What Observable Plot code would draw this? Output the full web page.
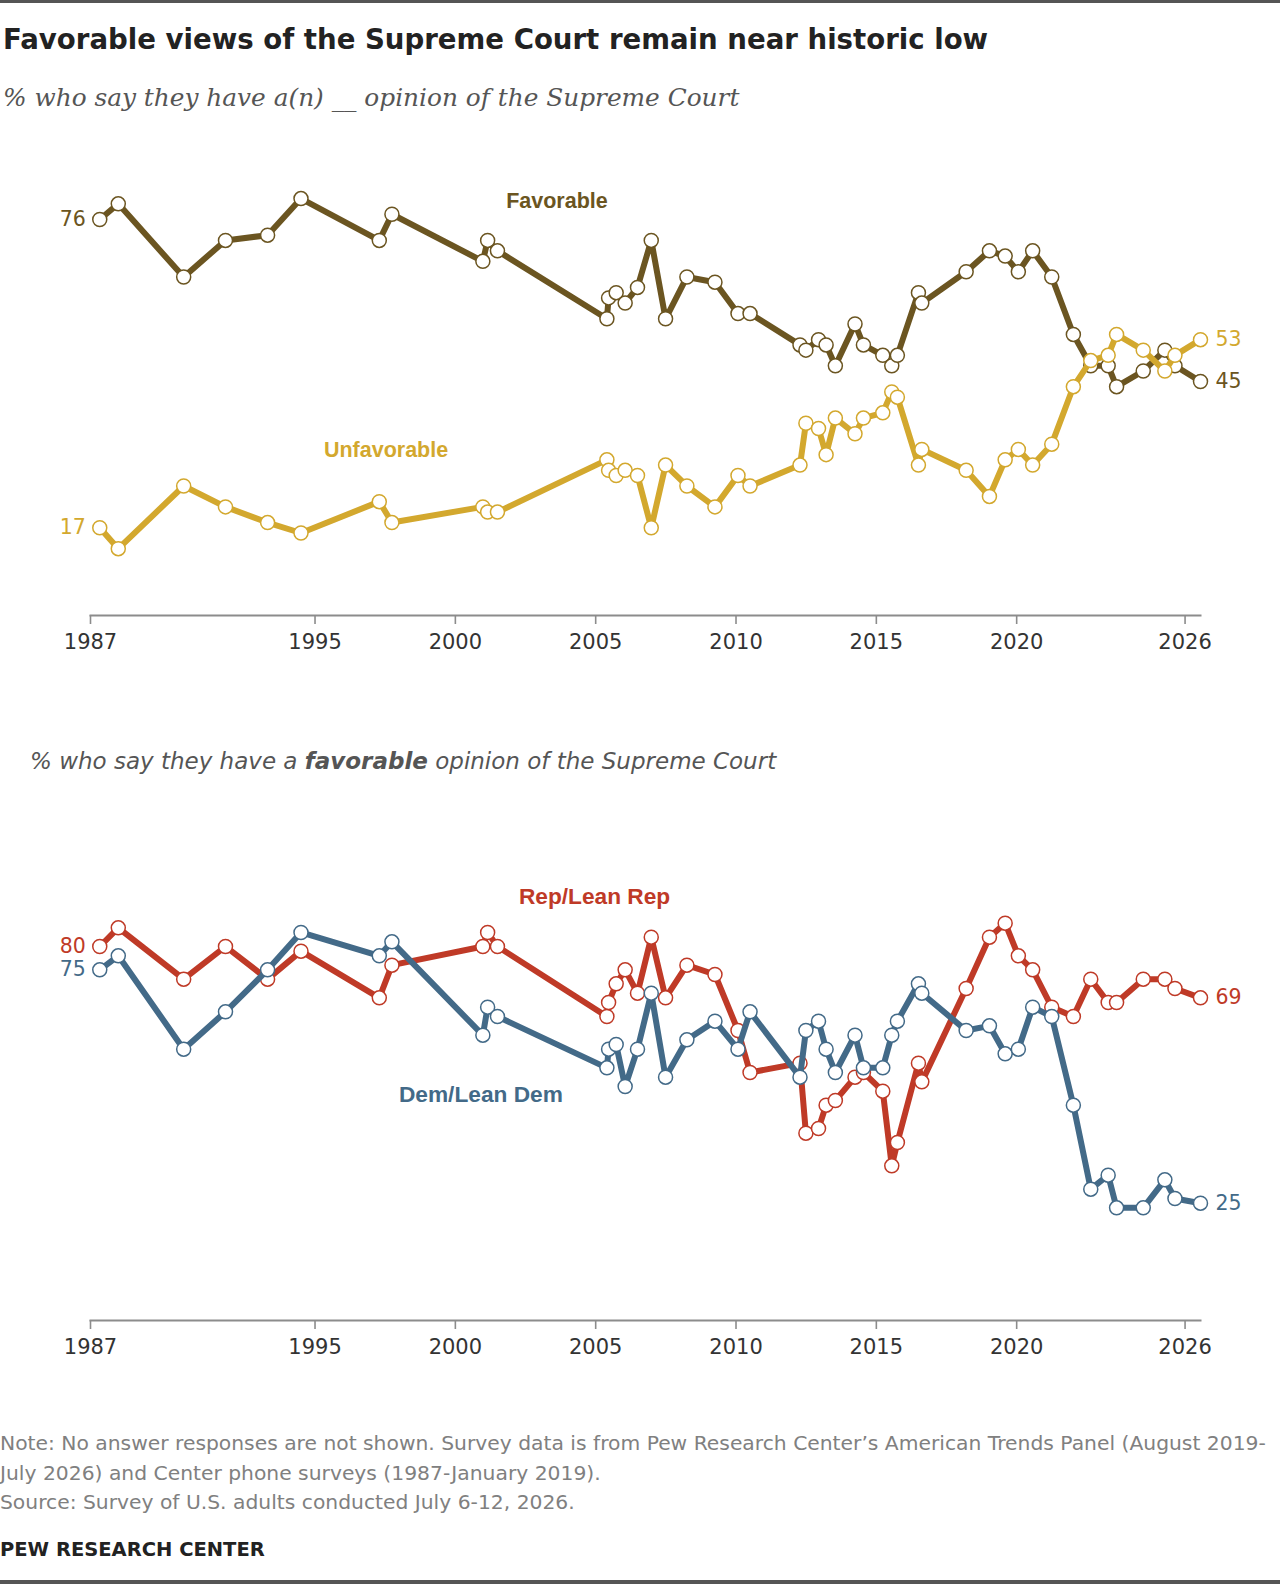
<!DOCTYPE html>
<html>
<head>
<meta charset="utf-8">
<script src="https://cdn.jsdelivr.net/npm/d3@7"></script>
<script src="https://cdn.jsdelivr.net/npm/@observablehq/plot@0.6"></script>
<style>
  html, body { margin: 0; padding: 0; background: #fff; }
  body { width: 1280px; height: 1584px; position: relative; overflow: hidden; font-family: 'DejaVu Sans', 'Liberation Sans', Arial, sans-serif; }
  .abs { position: absolute; white-space: nowrap; }
  .rule { position: absolute; left: 0; width: 1280px; background: #555; }
</style>
</head>
<body>
<div class="rule" style="top:0;height:3px"></div>
<div class="abs" style="left:3px;top:23px;font-size:27.6px;line-height:34px;font-weight:bold;color:#222">Favorable views of the Supreme Court remain near historic low</div>
<div class="abs" style="left:3px;top:83px;font-size:24.8px;line-height:30px;font-family:'DejaVu Serif',Georgia,serif;font-style:italic;color:#555">% who say they have a(n) __ opinion of the Supreme Court</div>
<div id="p1" class="abs" style="left:0;top:130px"></div>
<div class="abs" style="left:30px;top:747px;font-size:23px;line-height:28px;font-style:italic;color:#555">% who say they have a <b>favorable</b> opinion of the Supreme Court</div>
<div id="p2" class="abs" style="left:0;top:800px"></div>
<div class="abs" style="left:0;top:1429px;font-size:20.3px;line-height:29.6px;color:#808080">Note: No answer responses are not shown. Survey data is from Pew Research Center’s American Trends Panel (August 2019-<br>July 2026) and Center phone surveys (1987-January 2019).<br>Source: Survey of U.S. adults conducted July 6-12, 2026.</div>
<div class="abs" style="left:0;top:1538px;font-size:19.5px;line-height:24px;font-weight:bold;color:#222">PEW RESEARCH CENTER</div>
<div class="rule" style="top:1580px;height:4px"></div>
<script>
// ---- Data (survey dates as fractional years) ----
const dates = [1987.33, 1987.99, 1990.32, 1991.81, 1993.31, 1994.50, 1997.29, 1997.74, 2000.98, 2001.15, 2001.50,
  2005.40, 2005.46, 2005.73, 2006.05, 2006.49, 2006.98, 2007.49, 2008.25, 2009.25, 2010.07, 2010.50,
  2012.28, 2012.49, 2012.94, 2013.21, 2013.54, 2014.24, 2014.54, 2015.23, 2015.55, 2015.75, 2016.50, 2016.62,
  2018.20, 2019.03, 2019.59, 2020.06, 2020.57, 2021.25, 2022.02, 2022.64, 2023.26, 2023.56, 2024.51, 2025.28, 2025.64, 2026.55];
const favorable = [76, 79, 65, 72, 73, 80, 72, 77, 68, 72, 70,
  57, 61, 62, 60, 63, 72, 57, 65, 64, 58, 58,
  52, 51, 53, 52, 48, 56, 52, 50, 48, 50, 62, 60,
  66, 70, 69, 66, 70, 65, 54, 48, 48, 44, 47, 51, 48, 45];
const unfavorable = [17, 13, 25, 21, 18, 16, 22, 18, 21, 20, 20,
  30, 28, 27, 28, 27, 17, 29, 25, 21, 27, 25,
  29, 37, 36, 31, 38, 35, 38, 39, 43, 42, 29, 32,
  28, 23, 30, 32, 29, 33, 44, 49, 50, 54, 51, 47, 50, 53];
const repLean = [80, 84, 73, 80, 73, 79, 69, 76, 80, 83, 80,
  65, 68, 72, 75, 70, 82, 69, 76, 74, 62, 53,
  55, 40, 41, 46, 47, 52, 53, 49, 33, 38, 55, 51,
  71, 82, 85, 78, 75, 67, 65, 73, 68, 68, 73, 73, 71, 69];
const demLean = [75, 78, 58, 66, 75, 83, 78, 81, 61, 67, 65,
  54, 58, 59, 50, 58, 70, 52, 60, 64, 58, 66,
  52, 62, 64, 58, 53, 61, 54, 54, 61, 64, 72, 70,
  62, 63, 57, 58, 67, 65, 46, 28, 31, 24, 24, 30, 26, 25];
const tickYears = [1987, 1995, 2000, 2005, 2010, 2015, 2020, 2026];
const seriesNames1 = ["Favorable", "Unfavorable"];
const seriesNames2 = ["Rep/Lean Rep", "Dem/Lean Dem"];
// label anchor positions (data space)
const labelYears1 = [2003.62, 1997.53];
const labelValues1 = [79.5, 31.8];
const labelYears2 = [2004.96, 2000.91];
const labelValues2 = [90.6, 48.3];

const colors1 = ["#6b5521", "#d3a82e"];
const colors2 = ["#bf3a27", "#436a88"];
const font = "'DejaVu Sans', 'Liberation Sans', Arial, sans-serif";
const labelFont = "'Liberation Sans', Arial, sans-serif";

function rowsOf(values) { return dates.map((d, i) => ({date: d, value: values[i]})); }

function panel({series, names, colors, labelYears, labelValues, labelSize, H, T, axisY, yPage}) {
  const marks = [];
  series.forEach((vals, k) => {
    const rows = rowsOf(vals);
    marks.push(Plot.line(rows, {x: "date", y: "value", stroke: colors[k], strokeWidth: 6, strokeLinejoin: "round", strokeLinecap: "round"}));
    marks.push(Plot.dot(rows, {x: "date", y: "value", r: 7, fill: "white", stroke: colors[k], strokeWidth: 1.5}));
    marks.push(Plot.text([rows[0]], {x: "date", y: "value", text: d => String(d.value), textAnchor: "end", dx: -14, fill: colors[k], fontSize: 20.5}));
    marks.push(Plot.text([rows[rows.length - 1]], {x: "date", y: "value", text: d => String(d.value), textAnchor: "start", dx: 15, fill: colors[k], fontSize: 20.5}));
    marks.push(Plot.text([{x: labelYears[k], y: labelValues[k], name: names[k]}], {x: "x", y: "y", text: "name", fill: colors[k], fontWeight: "bold", fontSize: labelSize, fontFamily: labelFont}));
  });
  marks.unshift(
    Plot.frame({anchor: "bottom", stroke: "#8c8c8c", strokeWidth: 2}),
    Plot.axisX({ticks: tickYears, tickFormat: d => String(d), tickSize: 9, tickPadding: 10, stroke: "#8c8c8c", strokeWidth: 1.6, fill: "#333", fontSize: 21})
  );
  return Plot.plot({
    width: 1280, height: H,
    marginLeft: 90, marginRight: 80, marginTop: 0, marginBottom: T + H - axisY,
    x: {domain: [1987, dates[dates.length - 1]], range: [90, 1200]},
    y: {axis: null, domain: [0, 100], range: [yPage(0) - T, yPage(100) - T]},
    style: {fontFamily: font, fontSize: "21px", background: "transparent", overflow: "visible"},
    marks
  });
}

document.getElementById("p1").appendChild(panel({
  series: [favorable, unfavorable], names: seriesNames1, colors: colors1,
  labelYears: labelYears1, labelValues: labelValues1, labelSize: 21.5,
  T: 130, H: 540, axisY: 615, yPage: v => 219 + (76 - v) * 5.225
}));
document.getElementById("p2").appendChild(panel({
  series: [repLean, demLean], names: seriesNames2, colors: colors2,
  labelYears: labelYears2, labelValues: labelValues2, labelSize: 22.7,
  T: 800, H: 560, axisY: 1320, yPage: v => 946 + (80 - v) * 4.667
}));
</script>
</body>
</html>
